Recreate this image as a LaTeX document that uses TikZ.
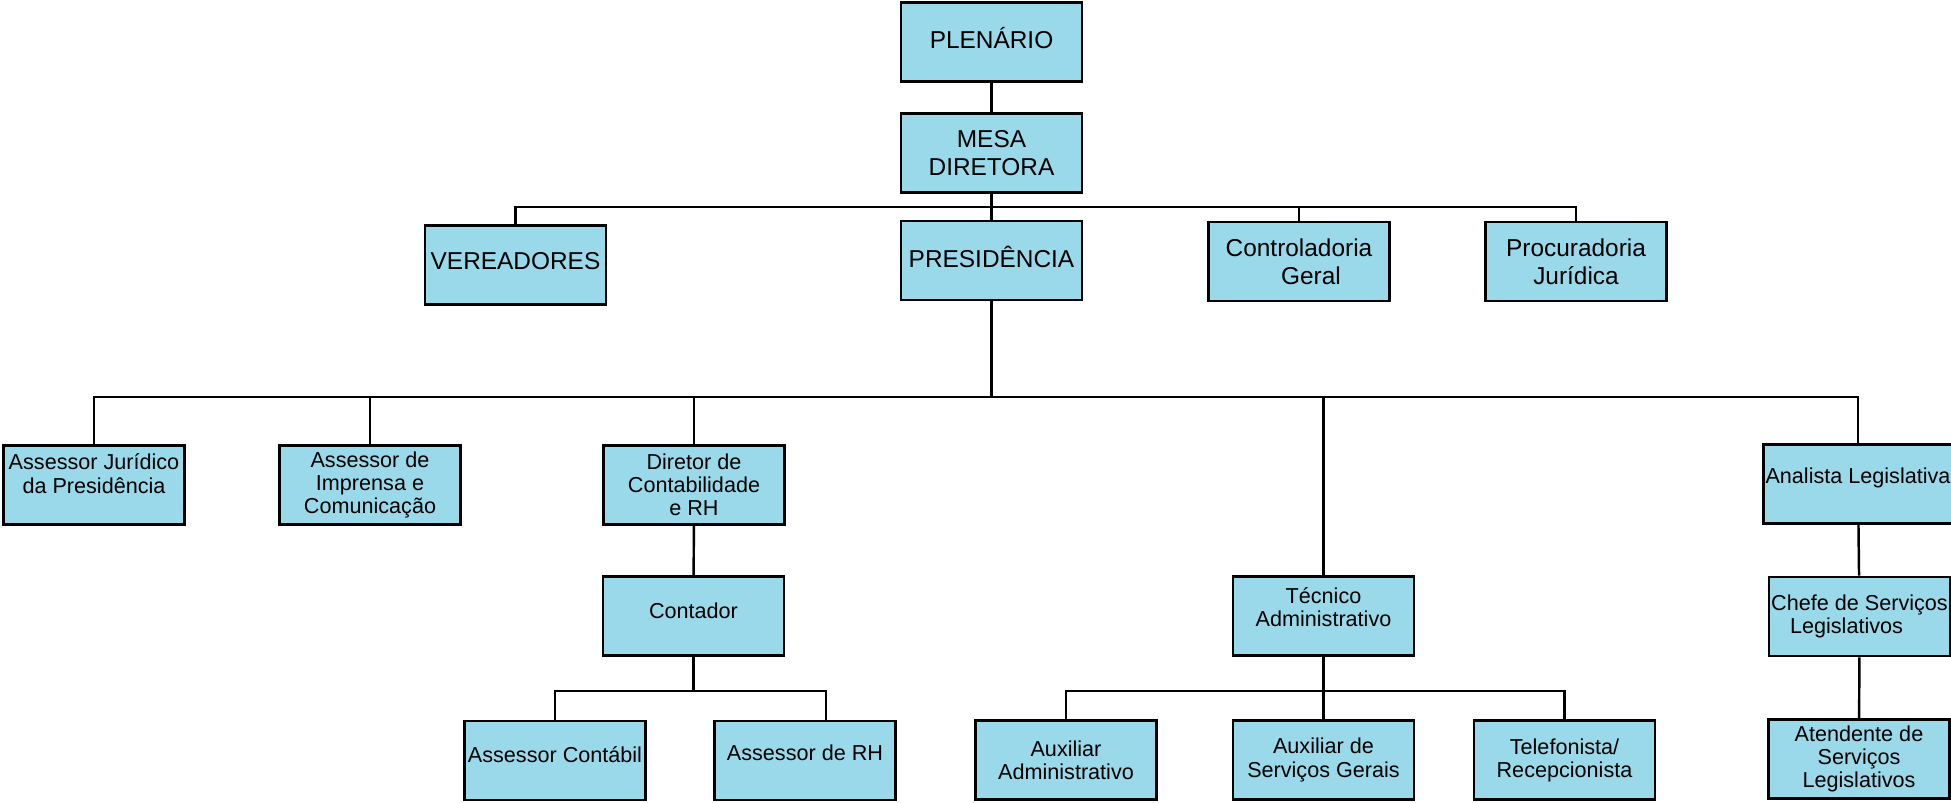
\documentclass[tikz,border=0pt]{standalone}
\usepackage{fontspec}
\setmainfont{Liberation Sans}
\usetikzlibrary{positioning}
\definecolor{boxblue}{HTML}{99D9EA}

\begin{document}
\begin{tikzpicture}[x=0.02cm,y=-0.02cm,
  unit/.style={draw,line width=1.5pt,fill=boxblue,minimum width=3.62cm,
    minimum height=1.58cm,inner sep=1pt,align=center},
  head/.style={unit,font=\fontsize{13.9}{16.2}\selectfont},
  post/.style={unit,font=\fontsize{12.3}{13.2}\selectfont},
  lift/.style={text depth=#1},
  link/.style={line width=1.4pt}]
  \useasboundingbox (0,0) rectangle (1951,802);
  % Heights of the three horizontal bars.
  \coordinate (busA) at (0,207);
  \coordinate (busB) at (0,397);
  \coordinate (busC) at (0,691);

  % Top of the chart.
  \node[head,lift=0.16cm] (plen) at (991.5,42) {PLENÁRIO};
  \node[head] (mesa) at (991.5,153) {MESA\\DIRETORA};
  \node[head,lift=0.16cm] (vere) at (515.5,265) {VEREADORES};
  \node[head,lift=0.16cm] (pres) at (991.5,260.5) {PRESIDÊNCIA};
  \node[head] (ctrl) at (1299,261.5) {Controladoria\\\hspace*{0.48cm}Geral};
  \node[head] (proc) at (1576,261.5) {Procuradoria\\Jurídica};

  % Posts under the presidency.
  \node[post,lift=0.46cm] (jur) at (94,485) {Assessor Jurídico\\da Presidência};
  \node[post] (impr) at (370,485) {Assessor de\\Imprensa e\\Comunicação};
  \node[post] (dire) at (694,485) {Diretor de\\Contabilidade\\e RH};
  \node[post,lift=0.33cm] (anal) at (1858,484) {Analista Legislativa};
  \node[post,lift=0.22cm] (cont) at (693.5,616) {Contador};
  \node[post,lift=0.36cm] (tecn) at (1323.5,616) {Técnico\\Administrativo};
  \node[post] (chef) at (1859.5,616.5) {Chefe de Serviços\\Legislativos\hspace*{0.52cm}};

  % Bottom row.
  \node[post,lift=0.22cm] (ctbl) at (555,760.5) {Assessor Contábil};
  \node[post,lift=0.3cm] (rh) at (805,760.5) {Assessor de RH};
  \node[post] (auxa) at (1066,760) {Auxiliar\\Administrativo};
  \node[post] (auxs) at (1323.5,760) {Auxiliar de\\Serviços Gerais};
  \node[post] (tele) at (1564.5,760) {Telefonista/\\Recepcionista};
  \node[post] (aten) at (1859,759) {Atendente de\\Serviços\\Legislativos};

  % Connectors.
  \draw[link] (plen) -- (mesa);
  \draw[link] (mesa) -- (pres);
  \foreach \n in {vere,ctrl,proc}
    \draw[link] (mesa.south) -- (mesa.south |- busA) -| (\n.north);
  \foreach \n in {jur,impr,dire,tecn,anal}
    \draw[link] (pres.south) -- (pres.south |- busB) -| (\n.north);
  \draw[link] (dire) -- (cont);
  \draw[link] (cont.south) -- (cont.south |- busC) -| (ctbl.north);
  \draw[link] (cont.south) -- (cont.south |- busC) -| ([xshift=0.42cm]rh.north);
  \foreach \n in {auxa,auxs,tele}
    \draw[link] (tecn.south) -- (tecn.south |- busC) -| (\n.north);
  \draw[link] (anal) -- (chef);
  \draw[link] (chef) -- (aten);
\end{tikzpicture}
\end{document}
